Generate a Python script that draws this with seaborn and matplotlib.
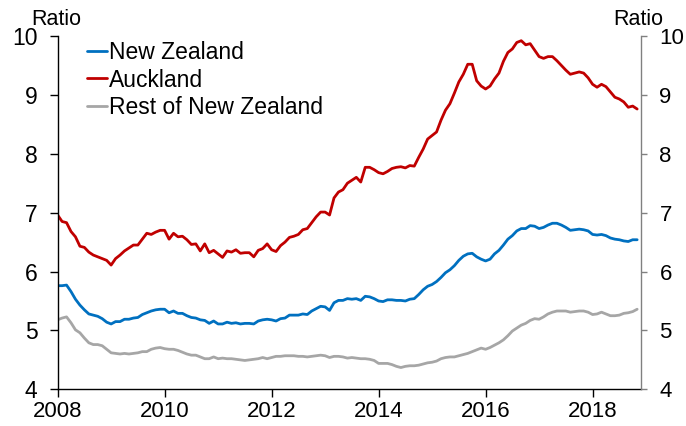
import numpy as np
import pandas as pd
import matplotlib
matplotlib.use("Agg")
import matplotlib.pyplot as plt
import seaborn as sns

# ---- data (monthly, Jan 2008 - Nov 2018) ----
start_year = 2008
series_names = ["New Zealand", "Auckland", "Rest of New Zealand"]

new_zealand = [
    5.76, 5.76, 5.77, 5.66, 5.53, 5.43, 5.35, 5.28, 5.26, 5.24, 5.20, 5.14,
    5.11, 5.15, 5.15, 5.19, 5.19, 5.21, 5.22, 5.27, 5.30, 5.33, 5.35, 5.36,
    5.36, 5.30, 5.33, 5.29, 5.29, 5.25, 5.22, 5.21, 5.18, 5.17, 5.12, 5.16,
    5.11, 5.11, 5.14, 5.12, 5.13, 5.11, 5.12, 5.12, 5.11, 5.16, 5.18, 5.19,
    5.18, 5.16, 5.20, 5.21, 5.26, 5.26, 5.26, 5.28, 5.27, 5.33, 5.37, 5.41,
    5.40, 5.34, 5.47, 5.51, 5.51, 5.54, 5.53, 5.54, 5.51, 5.58, 5.57, 5.54,
    5.50, 5.49, 5.52, 5.52, 5.51, 5.51, 5.50, 5.53, 5.54, 5.61, 5.69, 5.75,
    5.78, 5.83, 5.90, 5.98, 6.03, 6.10, 6.19, 6.26, 6.30, 6.31, 6.25, 6.21,
    6.18, 6.21, 6.30, 6.36, 6.45, 6.55, 6.61, 6.69, 6.73, 6.73, 6.78, 6.77,
    6.73, 6.75, 6.79, 6.82, 6.82, 6.79, 6.75, 6.70, 6.71, 6.72, 6.71, 6.69,
    6.63, 6.62, 6.63, 6.61, 6.57, 6.55, 6.54, 6.52, 6.51, 6.54, 6.54,
]

auckland = [
    6.96, 6.85, 6.83, 6.68, 6.59, 6.43, 6.41, 6.33, 6.28, 6.25, 6.22, 6.19,
    6.11, 6.22, 6.28, 6.35, 6.40, 6.45, 6.45, 6.55, 6.65, 6.63, 6.67, 6.70,
    6.70, 6.55, 6.65, 6.59, 6.60, 6.54, 6.46, 6.47, 6.35, 6.47, 6.32, 6.36,
    6.30, 6.24, 6.35, 6.33, 6.37, 6.31, 6.32, 6.32, 6.25, 6.36, 6.39, 6.47,
    6.37, 6.34, 6.44, 6.50, 6.58, 6.60, 6.63, 6.71, 6.73, 6.83, 6.93, 7.01,
    7.01, 6.96, 7.25, 7.35, 7.39, 7.50, 7.55, 7.60, 7.52, 7.77, 7.77, 7.73,
    7.68, 7.66, 7.70, 7.75, 7.77, 7.78, 7.76, 7.80, 7.79, 7.94, 8.08, 8.25,
    8.31, 8.37, 8.57, 8.74, 8.85, 9.03, 9.22, 9.35, 9.52, 9.52, 9.24, 9.15,
    9.10, 9.15, 9.27, 9.37, 9.57, 9.72, 9.78, 9.89, 9.92, 9.85, 9.87, 9.76,
    9.65, 9.62, 9.65, 9.65, 9.58, 9.50, 9.42, 9.35, 9.37, 9.39, 9.37, 9.29,
    9.18, 9.13, 9.18, 9.14, 9.05, 8.96, 8.93, 8.88, 8.79, 8.81, 8.76,
]

rest_of_nz = [
    5.18, 5.21, 5.23, 5.13, 5.01, 4.96, 4.87, 4.79, 4.76, 4.76, 4.74, 4.68,
    4.62, 4.61, 4.60, 4.61, 4.60, 4.61, 4.62, 4.64, 4.64, 4.68, 4.70, 4.71,
    4.69, 4.68, 4.68, 4.66, 4.63, 4.60, 4.58, 4.58, 4.55, 4.52, 4.52, 4.55,
    4.52, 4.53, 4.52, 4.52, 4.51, 4.50, 4.49, 4.50, 4.51, 4.52, 4.54, 4.52,
    4.54, 4.56, 4.56, 4.57, 4.57, 4.57, 4.56, 4.56, 4.55, 4.56, 4.57, 4.58,
    4.57, 4.54, 4.56, 4.56, 4.55, 4.53, 4.54, 4.53, 4.52, 4.52, 4.51, 4.49,
    4.44, 4.44, 4.44, 4.42, 4.39, 4.37, 4.39, 4.40, 4.40, 4.41, 4.43, 4.45,
    4.46, 4.48, 4.52, 4.54, 4.55, 4.55, 4.57, 4.59, 4.61, 4.64, 4.67, 4.70,
    4.68, 4.71, 4.75, 4.79, 4.84, 4.91, 4.99, 5.04, 5.09, 5.12, 5.17, 5.20,
    5.19, 5.23, 5.28, 5.31, 5.33, 5.33, 5.33, 5.31, 5.32, 5.33, 5.33, 5.31,
    5.27, 5.28, 5.31, 5.28, 5.25, 5.25, 5.26, 5.29, 5.30, 5.32, 5.36,
]

x_ticks = [2008, 2010, 2012, 2014, 2016, 2018]
y_ticks = [4, 5, 6, 7, 8, 9, 10]
colors = ["#0070C0", "#C00000", "#A6A6A6"]

# ---- build long table ----
n = len(new_zealand)
years = start_year + np.arange(n) / 12.0
df = pd.concat([
    pd.DataFrame({"year": years, "value": vals, "series": name})
    for name, vals in zip(series_names, [new_zealand, auckland, rest_of_nz])
], ignore_index=True)

sns.set_style("white")
plt.rcParams["font.family"] = ["Liberation Sans", "DejaVu Sans"]
plt.rcParams["text.color"] = "black"

fig = plt.figure(figsize=(6.86, 4.26), dpi=100)
ax = fig.add_axes([0.084, 0.0861, 0.850, 0.8294])

sns.lineplot(data=df, x="year", y="value", hue="series", hue_order=series_names,
             palette=colors, linewidth=2.0, ax=ax)

ax.set_xlim(2008, 2018.9)
ax.set_ylim(4, 10)
ax.set_xticks(x_ticks)
ax.set_yticks(y_ticks)
ax.set_xlabel("")
ax.set_ylabel("")

for s in ["top", "right"]:
    ax.spines[s].set_visible(False)
for s in ["left", "bottom"]:
    ax.spines[s].set_color("black")
    ax.spines[s].set_linewidth(1.0)

ax.tick_params(axis="x", direction="out", length=5.5, width=1.0, color="black",
               labelcolor="black", labelsize=16, pad=3, bottom=True)
ax.tick_params(axis="y", direction="out", length=5.5, width=1.0, color="black",
               labelcolor="black", labelsize=16.5, pad=9, left=True)

ax2 = ax.twinx()
ax2.set_ylim(4, 10)
ax2.set_yticks(y_ticks)
for s in ["top", "left", "bottom"]:
    ax2.spines[s].set_visible(False)
ax2.spines["right"].set_color("#808080")
ax2.spines["right"].set_linewidth(1.0)
ax2.tick_params(axis="y", direction="out", length=4.5, width=1.0, color="#808080",
                labelcolor="black", labelsize=16, pad=9, right=True)
ax2.grid(False)
ax.grid(False)

fig.text(0.045, 0.955, "Ratio", fontsize=15.5, ha="left", va="center", color="black")
fig.text(0.894, 0.955, "Ratio", fontsize=15.5, ha="left", va="center", color="black")

leg = ax.legend(loc="upper left", bbox_to_anchor=(0.035, 1.012), frameon=False,
                fontsize=16.5, handlelength=0.85, handletextpad=0.1,
                labelspacing=0.2, borderaxespad=0)
for text in leg.get_texts():
    text.set_color("black")
for line in leg.get_lines():
    line.set_linewidth(2.0)

fig.savefig("out.png", dpi=100)
